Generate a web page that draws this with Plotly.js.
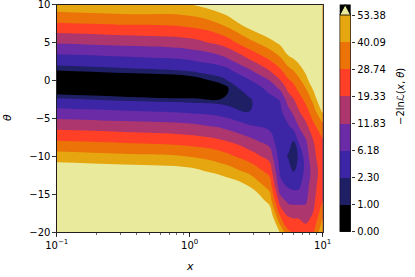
<!DOCTYPE html>
<html><head><meta charset="utf-8">
<script src="https://cdn.plot.ly/plotly-3.0.1.min.js"></script>
<style>html,body{margin:0;padding:0;background:#fff;}#chart{width:415px;height:277px;}</style>
</head><body><div id="chart"></div>
<script>
// ---- data: -2 ln L(x, theta), one column per x value ----
const xGrid = [0.1, 0.316, 1, 1.778, 2.818, 3.981, 4.786, 5.495, 6.026, 6.607, 7.413, 8.511, 10];
const thetaGrid = [10, 7.5, 5, 2.5, 1, 0, -1, -2.5, -4, -6, -8, -10, -12, -14, -16, -18, -20];
const nll_x0_100 = [48.7, 27.9, 12.4, 3.55, 0.81, 0.19, 0.44, 2.77, 7.63, 16.8, 29.4, 46.1, 65.1, 84.1, 103.0, 122.0, 141.0];
const nll_x0_316 = [51.5, 30.0, 14.1, 4.35, 1.0, 0.375, 0.25, 1.89, 6.34, 15.4, 27.3, 43.2, 62.2, 81.2, 100.2, 119.2, 138.1];
const nll_x1_000 = [52.5, 32.5, 16.4, 5.60, 1.80, 0.64, 0.06, 1.37, 5.29, 13.65, 24.4, 39.85, 58.3, 77.3, 96.3, 115.3, 134.3];
const nll_x1_778 = [64.2, 41.6, 22.3, 8.84, 3.55, 1.74, 0.80, 1.11, 4.16, 10.7, 20.4, 33.4, 48.3, 66.0, 85.0, 103.7, 122.6];
const nll_x2_818 = [84.1, 60.4, 36.3, 17.6, 9.77, 5.85, 4.05, 2.0, 2.24, 6.66, 14.2, 24.2, 37.6, 53.6, 72.5, 91.5, 110.3];
const nll_x3_981 = [95.4, 71.7, 48.2, 27.3, 17.6, 11.83, 7.67, 5.10, 3.71, 5.18, 9.57, 16.7, 25.6, 36.4, 49.7, 67.3, 86.2];
const nll_x4_786 = [103.6, 80.0, 56.2, 35.6, 25.0, 18.9, 13.3, 6.46, 5.40, 4.35, 3.27, 4.17, 5.43, 8.36, 16.3, 29.5, 52.0];
const nll_x5_495 = [116.2, 92.4, 68.8, 45.8, 33.9, 27.1, 21.9, 15.4, 10.2, 5.70, 4.08, 2.08, 4.14, 5.94, 11.1, 19.7, 31.0];
const nll_x6_026 = [120.3, 96.6, 72.9, 49.8, 37.9, 31.1, 25.8, 18.8, 13.65, 8.4, 2.26, 1.40, 2.26, 5.37, 10.6, 18.7, 28.1];
const nll_x6_607 = [126.6, 102.9, 79.1, 55.4, 44.2, 37.4, 31.7, 24.7, 18.9, 12.1, 6.87, 2.60, 4.10, 5.49, 10.6, 18.7, 25.4];
const nll_x7_413 = [138.7, 115.1, 91.4, 67.9, 53.8, 46.4, 39.6, 31.4, 24.8, 16.9, 10.9, 8.8, 7.31, 9.48, 11.0, 17.5, 22.4];
const nll_x8_511 = [159.6, 135.8, 112.3, 88.6, 74.5, 65.0, 55.8, 43.9, 35.4, 26.5, 19.2, 17.4, 15.6, 16.2, 17.9, 20.5, 28.2];
const nll_x10_00 = [189, 165, 141.3, 117.8, 103.7, 94.2, 85.1, 70.7, 56.4, 36.4, 27.6, 25.6, 24.2, 26.7, 29.0, 39.3, 51.3];

const levels = [0, 1.00, 2.30, 6.18, 11.83, 19.33, 28.74, 40.09, 53.38];
const levelLabels = ['0.00', '1.00', '2.30', '6.18', '11.83', '19.33', '28.74', '40.09', '53.38'];
const bandColors = ['#000000', '#1f1f66', '#3d26a6', '#6b2ba6', '#ad366e', '#ff4026', '#eb7308', '#e6a60f'];
const overColor = '#eaea9c';
const xTicks = [0.1, 1, 10];
const xTickText = ['10<sup>\u22121</sup>', '10<sup>0</sup>', '10<sup>1</sup>'];
const yTicks = [-20, -15, -10, -5, 0, 5, 10];

// display coordinate used only so that contour interpolation between grid nodes is smooth
const levelSpacing = [0, 1.6, 2.2, 3.6, 5.0, 6.4, 7.8, 9.2, 10.6];
function toDisplay(L) {
  for (let i = 1; i < levels.length; i++) {
    if (L <= levels[i]) {
      const f = (L - levels[i-1]) / (levels[i] - levels[i-1]);
      return levelSpacing[i-1] + f * (levelSpacing[i] - levelSpacing[i-1]);
    }
  }
  const n = levels.length - 1;
  const slope = (levelSpacing[n] - levelSpacing[n-1]) / (levels[n] - levels[n-1]);
  return levelSpacing[n] + (L - levels[n]) * slope;
}

const columns = [nll_x0_100, nll_x0_316, nll_x1_000, nll_x1_778, nll_x2_818, nll_x3_981, nll_x4_786,
                 nll_x5_495, nll_x6_026, nll_x6_607, nll_x7_413, nll_x8_511, nll_x10_00];
const zDisp = thetaGrid.map((t, r) => columns.map(col => toDisplay(col[r])));

const traces = [];
for (let k = 1; k < levels.length; k++) {
  traces.push({
    type: 'contour', x: xGrid, y: thetaGrid, z: zDisp,
    contours: {type: 'constraint', operation: '<', value: levelSpacing[k]},
    fillcolor: k < bandColors.length ? bandColors[k] : overColor,
    line: {width: 0, smoothing: 1.3},
    showscale: false, showlegend: false, hoverinfo: 'skip'
  });
}

// colorbar drawn as a heatmap in its own small axes
const nb = bandColors.length;
const cs = [];
bandColors.forEach((c, i) => { cs.push([i / nb, c]); cs.push([(i + 1) / nb, c]); });
traces.push({
  type: 'heatmap', xaxis: 'x2', yaxis: 'y2',
  x: [0], y: bandColors.map((c, i) => i + 0.5), z: bandColors.map((c, i) => [i]),
  zmin: -0.5, zmax: nb - 0.5, colorscale: cs, showscale: false, hoverinfo: 'skip'
});
const triTop = nb + 0.388;
traces.push({
  type: 'scatter', xaxis: 'x2', yaxis: 'y2', mode: 'lines',
  x: [-0.5, 0.5, 0, -0.5], y: [nb, nb, triTop, nb], fill: 'toself', fillcolor: overColor,
  line: {color: 'black', width: 0.8}, hoverinfo: 'skip', showlegend: false
});
traces.push({
  type: 'scatter', xaxis: 'x2', yaxis: 'y2', mode: 'lines',
  x: [-0.5, 0.5, 0.5, 0, -0.5, -0.5], y: [0, 0, nb, triTop, nb, 0],
  line: {color: 'black', width: 0.8}, hoverinfo: 'skip', showlegend: false
});

const W = 415, H = 277;
const font = {family: 'DejaVu Sans', size: 10, color: 'black'};
const layout = {
  width: W, height: H, margin: {l: 0, r: 0, t: 0, b: 0},
  paper_bgcolor: 'white', plot_bgcolor: 'black', font: font, showlegend: false,
  xaxis: {
    type: 'log', range: [-1, 1], domain: [56.7 / W, 322.7 / W], anchor: 'y',
    tickmode: 'array', tickvals: xTicks, ticktext: xTickText, ticklabeloverflow: 'allow',
    ticks: 'outside', ticklen: 3.5, tickwidth: 0.8, tickcolor: 'black',
    minor: {ticks: 'outside', ticklen: 2, tickwidth: 0.6, tickcolor: 'black', dtick: 'D1', showgrid: false},
    showline: true, mirror: true, linecolor: 'black', linewidth: 0.8,
    showgrid: false, zeroline: false, automargin: false, tickfont: font
  },
  yaxis: {
    range: [-20, 10], domain: [(H - 232.3) / H, (H - 4.7) / H], anchor: 'x',
    tickmode: 'array', tickvals: yTicks, ticktext: yTicks.map(v => String(v).replace('-', '\u2212')),
    ticklabeloverflow: 'allow',
    ticks: 'outside', ticklen: 3.5, tickwidth: 0.8, tickcolor: 'black',
    showline: true, mirror: true, linecolor: 'black', linewidth: 0.8,
    showgrid: false, zeroline: false, automargin: false, tickfont: font
  },
  xaxis2: {domain: [339.7 / W, 350.7 / W], range: [-0.5, 0.5], anchor: 'y2', visible: false, fixedrange: true},
  yaxis2: {
    domain: [(H - 231.7) / H, (H - 4.5) / H], range: [0, triTop], anchor: 'x2', side: 'right',
    tickmode: 'array', tickvals: levels.map((v, i) => i), ticktext: levelLabels, ticklabeloverflow: 'allow',
    ticks: 'outside', ticklen: 3.5, tickwidth: 0.8, tickcolor: 'black',
    showline: false, showgrid: false, zeroline: false, automargin: false, tickfont: font
  },
  annotations: [
    {text: '<i>x</i>', xref: 'paper', yref: 'paper', x: 189.7 / W, y: (H - 266) / H,
     showarrow: false, font: {family: 'DejaVu Sans', size: 11, color: 'black'}, xanchor: 'center', yanchor: 'middle'},
    {text: '<i>\u03b8</i>', xref: 'paper', yref: 'paper', x: 8 / W, y: (H - 118) / H, textangle: -90,
     showarrow: false, font: {family: 'DejaVu Sans', size: 11, color: 'black'}, xanchor: 'center', yanchor: 'middle'},
    {text: '\u22122ln<i>\u2112</i>(<i>x</i>, <i>\u03b8</i>)', xref: 'paper', yref: 'paper', x: 400 / W, y: (H - 97) / H,
     textangle: -90, showarrow: false, font: {family: 'DejaVu Sans', size: 10, color: 'black'}, xanchor: 'center', yanchor: 'middle'}
  ]
};
Plotly.newPlot('chart', traces, layout, {staticPlot: true, displayModeBar: false});
</script>
</body></html>
